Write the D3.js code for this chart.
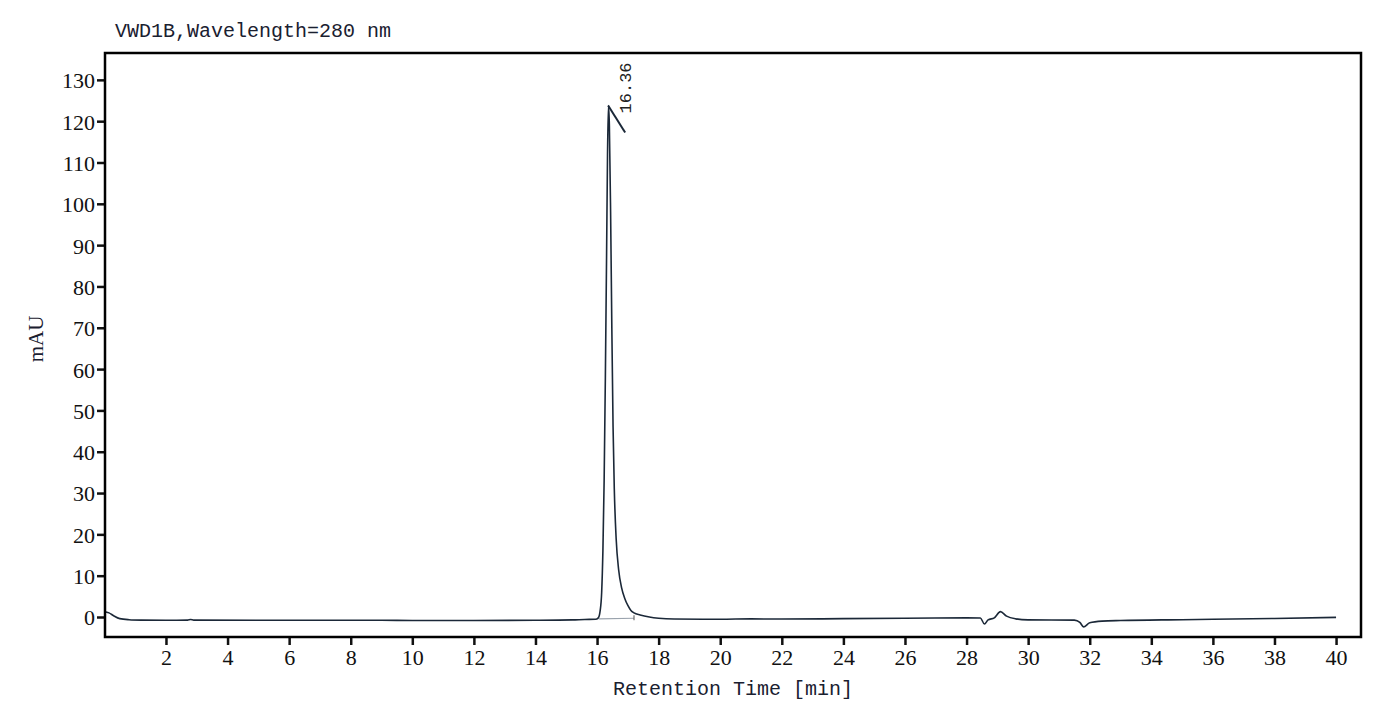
<!DOCTYPE html>
<meta charset="utf-8">
<style>
  body { margin: 0; background: #fff; }
  .tick text { font-family: "Liberation Serif", serif; font-size: 22px; fill: #111; }
  .tick line { stroke: #111; stroke-width: 2.5; }
  .trace { fill: none; stroke: #1b2838; stroke-width: 1.6; stroke-linejoin: round; }
  .frame { fill: none; stroke: #000; stroke-width: 2.5; }
</style>
<svg width="1395" height="707"></svg>
<script src="https://d3js.org/d3.v7.min.js"></script>
<script>
// retention time [min] and signal [mAU]
var times = [0.05, 0.15, 0.3, 0.5, 0.8, 1.2, 2.0, 2.7, 2.8, 2.9, 6, 9, 10, 12, 14, 15.2, 15.6, 15.95,
  16.04, 16.1, 16.15, 16.19, 16.23, 16.27, 16.31, 16.34, 16.37, 16.40, 16.44, 16.48, 16.52, 16.56,
  16.62, 16.70, 16.80, 16.90, 17.0, 17.1, 17.2, 17.4, 17.7, 18.0, 18.5, 20, 21, 22, 24, 26, 28,
  28.45, 28.58, 28.7, 28.9, 29.1, 29.3, 29.6, 30, 31.5, 31.68, 31.8, 32.0, 32.4, 33, 35, 38, 40];
var mAU = [1.2, 1.0, 0.3, -0.4, -0.65, -0.75, -0.8, -0.75, -0.6, -0.75, -0.8, -0.8, -0.85, -0.85, -0.8, -0.7, -0.6, -0.55,
  -0.2, 1.5, 6, 16, 33, 58, 88, 112, 123.8, 119, 98, 70, 46, 31,
  19, 11.5, 7, 4.5, 2.8, 1.6, 1.0, 0.5, 0.0, -0.3, -0.5, -0.55, -0.45, -0.5, -0.4, -0.3, -0.2,
  -0.25, -1.7, -0.7, -0.2, 1.3, 0.2, -0.45, -0.7, -0.75, -1.3, -2.4, -1.4, -1.0, -0.85, -0.65, -0.35, -0.1];
var xTicks = [2, 4, 6, 8, 10, 12, 14, 16, 18, 20, 22, 24, 26, 28, 30, 32, 34, 36, 38, 40];
var yTicks = [0, 10, 20, 30, 40, 50, 60, 70, 80, 90, 100, 110, 120, 130];
var peakTime = 16.36, peakHeight = 123.8, peakLabel = "16.36";
var peakBaseTimes = [16.05, 17.2], peakBaseValues = [-0.45, -0.3];

var svg = d3.select("svg");
var x = d3.scaleLinear().domain([0.02, 40.81]).range([105, 1361]);
var y = d3.scaleLinear().domain([-4.84, 136.5]).range([637, 53]);

svg.append("g")
    .attr("transform", "translate(0," + y.range()[0] + ")")
    .call(d3.axisBottom(x).tickValues(xTicks).tickSize(8).tickPadding(4).tickFormat(d3.format("d")))
    .call(function(g) { g.select(".domain").remove(); });

svg.append("g")
    .attr("transform", "translate(" + x.range()[0] + ",0)")
    .call(d3.axisLeft(y).tickValues(yTicks).tickSize(8).tickPadding(2).tickFormat(d3.format("d")))
    .call(function(g) { g.select(".domain").remove(); })
    .selectAll("text").attr("dy", "0.36em");

// integration baseline under the main peak
svg.append("line")
    .attr("x1", x(peakBaseTimes[0])).attr("y1", y(peakBaseValues[0]))
    .attr("x2", x(peakBaseTimes[1])).attr("y2", y(peakBaseValues[1]))
    .attr("stroke", "#9aa3ad").attr("stroke-width", 1.2);
svg.append("line")
    .attr("x1", x(peakBaseTimes[1])).attr("y1", y(peakBaseValues[1]) - 3)
    .attr("x2", x(peakBaseTimes[1])).attr("y2", y(peakBaseValues[1]) + 2)
    .attr("stroke", "#555").attr("stroke-width", 1);

var line = d3.line()
    .x(function(d, i) { return x(times[i]); })
    .y(function(d) { return y(d); })
    .curve(d3.curveMonotoneX);

svg.append("path").datum(mAU).attr("class", "trace").attr("d", line);

// peak marker + retention time label
var px = x(peakTime), py = y(peakHeight);
svg.append("line")
    .attr("x1", px).attr("y1", py).attr("x2", px + 17).attr("y2", py + 27)
    .attr("stroke", "#1b2838").attr("stroke-width", 2);
svg.append("text")
    .attr("transform", "translate(" + (px + 23) + "," + (py + 8) + ") rotate(-90)")
    .style("font-family", "Liberation Mono, monospace").style("font-size", "17px").style("fill", "#222")
    .text(peakLabel);

svg.append("rect").attr("class", "frame")
    .attr("x", x.range()[0]).attr("y", y.range()[1])
    .attr("width", x.range()[1] - x.range()[0]).attr("height", y.range()[0] - y.range()[1]);

svg.append("text")
    .attr("x", 115).attr("y", 37)
    .style("font-family", "Liberation Mono, monospace").style("font-size", "20px").style("fill", "#1a2030")
    .text("VWD1B,Wavelength=280 nm");

svg.append("text")
    .attr("x", (x.range()[0] + x.range()[1]) / 2).attr("y", 695)
    .attr("text-anchor", "middle")
    .style("font-family", "Liberation Mono, monospace").style("font-size", "20px").style("fill", "#1a2030")
    .text("Retention Time [min]");

svg.append("text")
    .attr("transform", "translate(43,339) rotate(-90)")
    .attr("text-anchor", "middle")
    .style("font-family", "Liberation Serif, serif").style("font-size", "21px").style("fill", "#1a2030")
    .text("mAU");
</script>
